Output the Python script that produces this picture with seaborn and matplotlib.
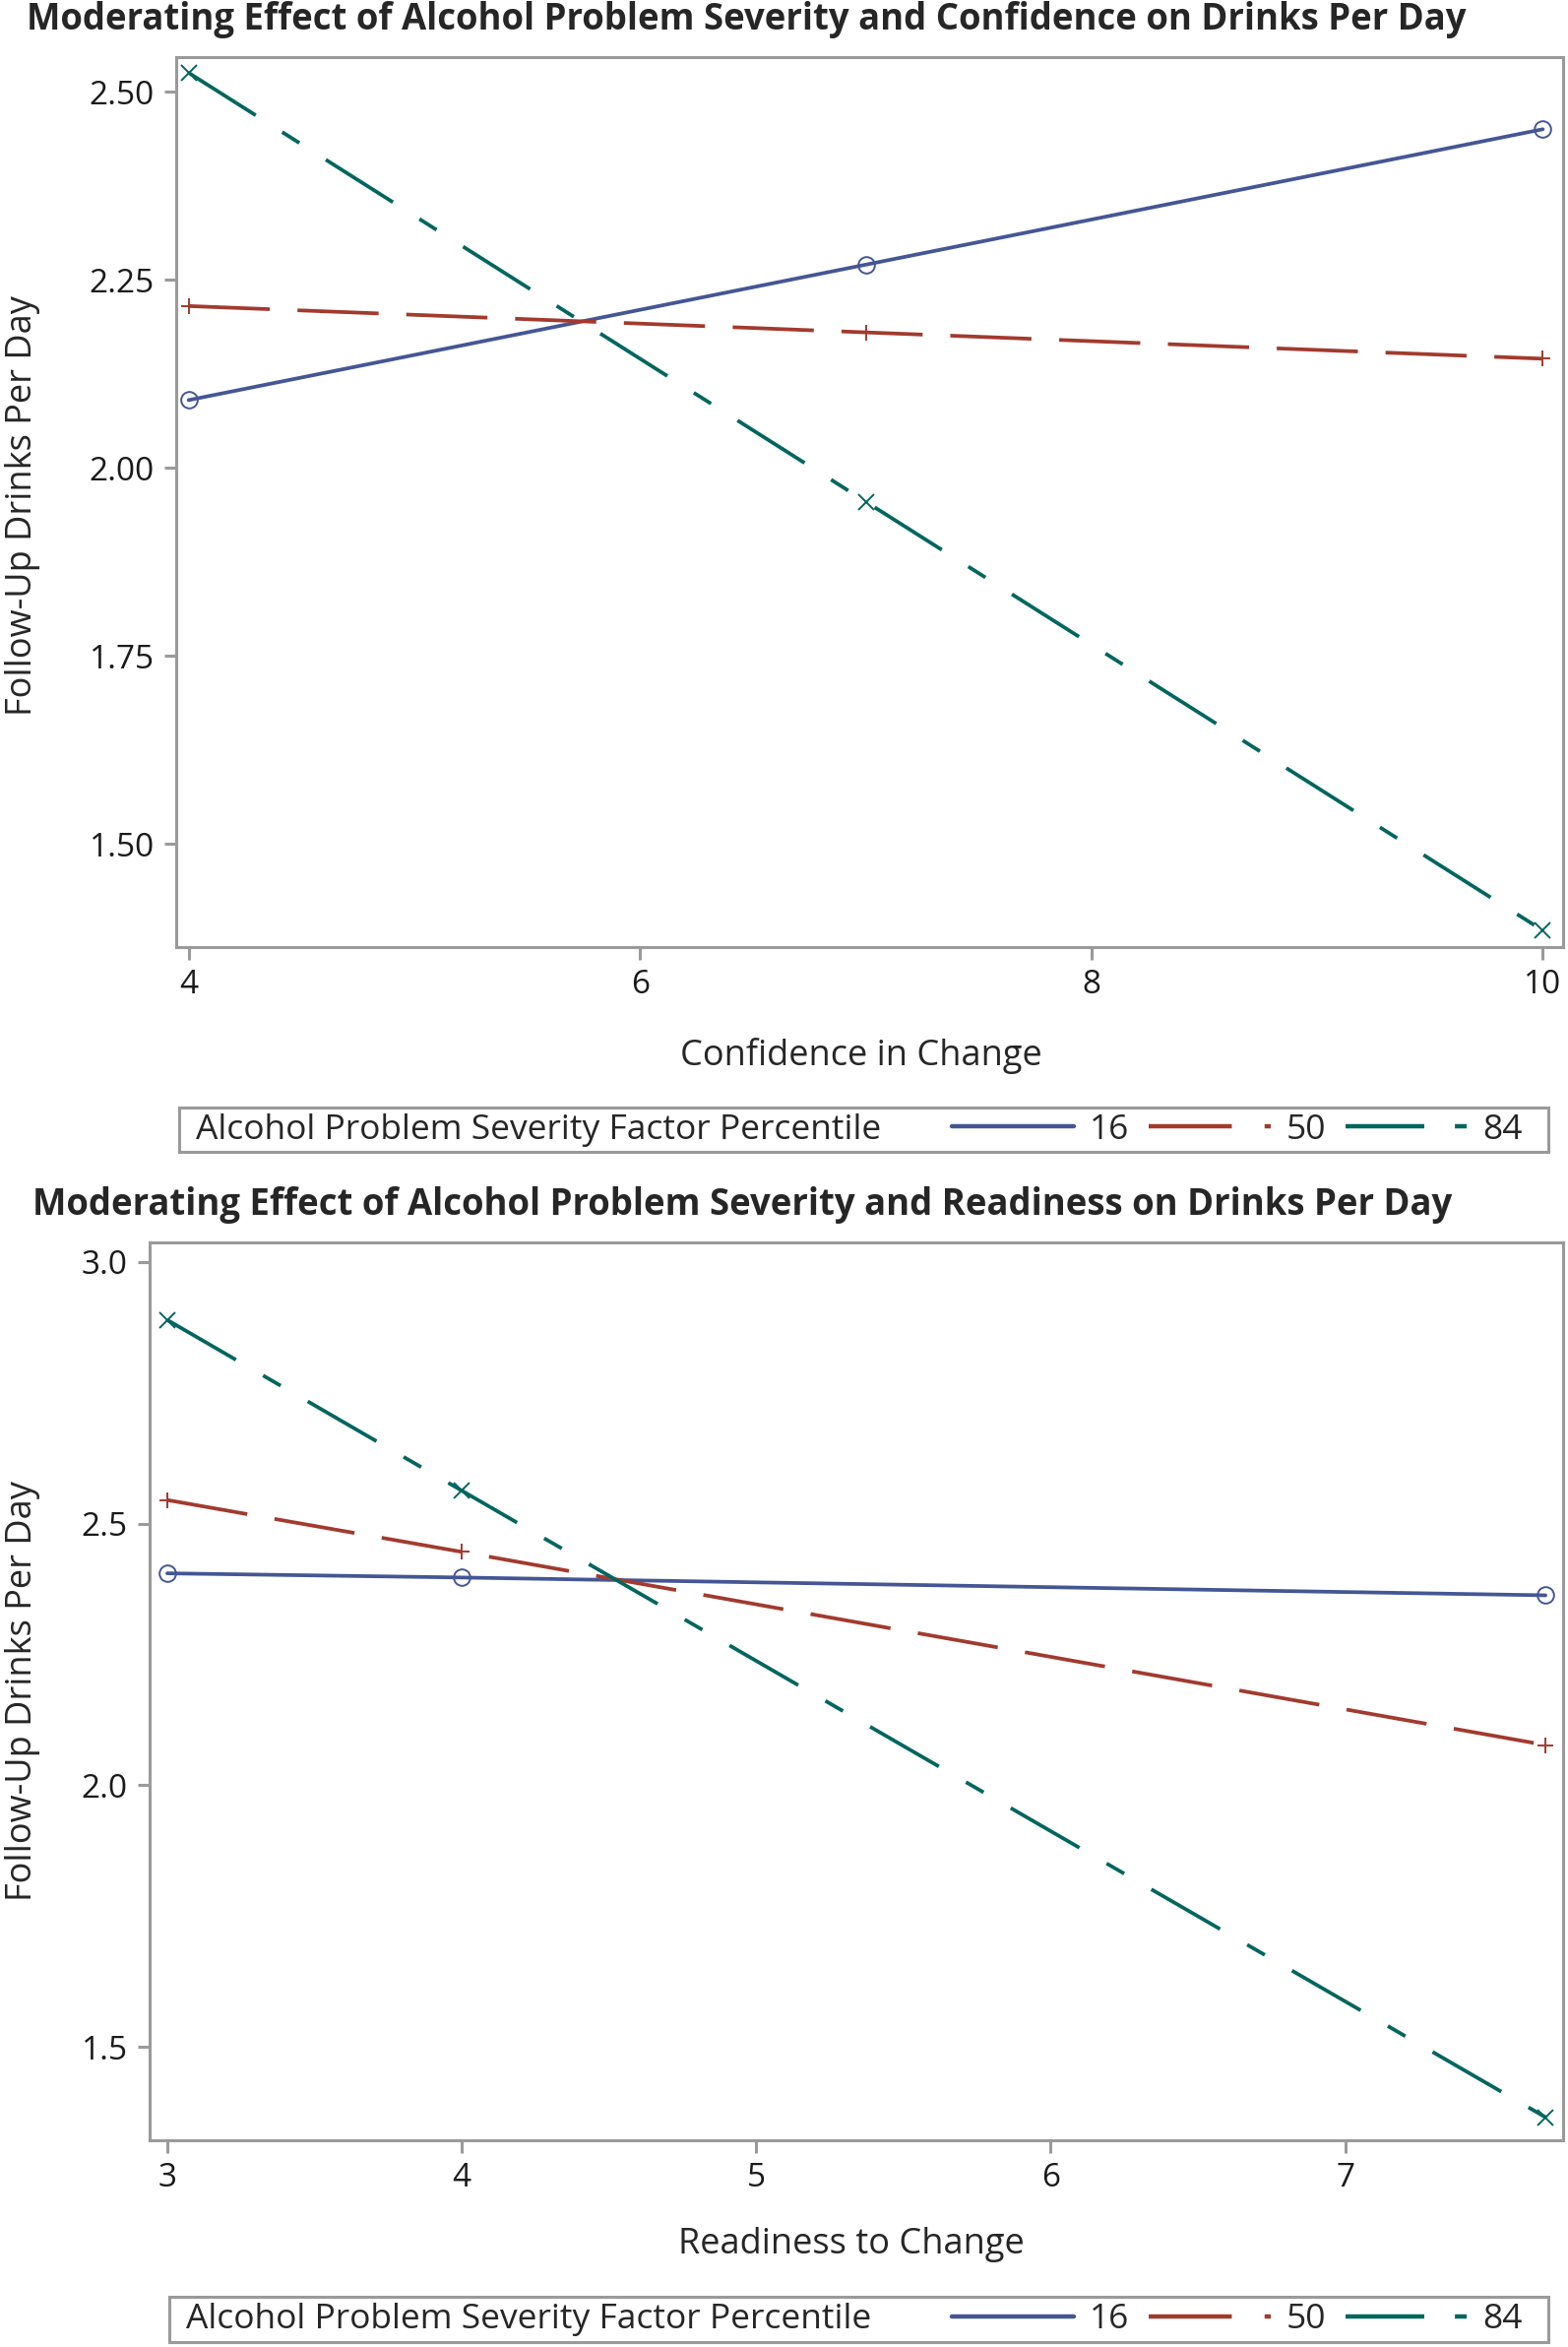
import numpy as np
import pandas as pd
import matplotlib
matplotlib.use("Agg")
import matplotlib.pyplot as plt
from matplotlib.lines import Line2D
from matplotlib.patches import Rectangle
import seaborn as sns

# ---- data ----
percentiles = ["16", "50", "84"]
conf_x = [4, 7, 10]
conf_16 = [2.09, 2.27, 2.45]
conf_50 = [2.215, 2.18, 2.145]
conf_84 = [2.525, 1.955, 1.385]
conf_yticks = [1.50, 1.75, 2.00, 2.25, 2.50]
conf_xticks = [4, 6, 8, 10]

read_x = [3, 4, 7.68]
read_16 = [2.405, 2.397, 2.363]
read_50 = [2.545, 2.446, 2.077]
read_84 = [2.889, 2.563, 1.366]
read_yticks = [1.5, 2.0, 2.5, 3.0]
read_xticks = [3, 4, 5, 6, 7]

title_top = "Moderating Effect of Alcohol Problem Severity and Confidence on Drinks Per Day"
title_bot = "Moderating Effect of Alcohol Problem Severity and Readiness on Drinks Per Day"
ylabel = "Follow-Up Drinks Per Day"
xlabel_top = "Confidence in Change"
xlabel_bot = "Readiness to Change"
legend_title = "Alcohol Problem Severity Factor Percentile"

# ---- styles ----
colors = {"16": "#445694", "50": "#A23A2E", "84": "#01665E"}
markers = {"16": "o", "50": "+", "84": "x"}
dashes = {"16": (), "50": (22, 7.5), "84": (21.5, 8.5, 5.5, 8.5)}
legend_dashes = {"16": (), "50": (19, 7.5, 2, 7.5), "84": (18, 7, 2.7, 7)}
LW = 2.7

sns.set_theme(style="white")
FONT = ["Open Sans", "DejaVu Sans"]
plt.rcParams["font.family"] = FONT

fig = plt.figure(figsize=(15.93, 23.84), dpi=100)
ax1 = fig.add_axes([0.1124, 0.5965, 0.8845, 0.3792])
ax2 = fig.add_axes([0.0954, 0.0881, 0.9015, 0.3825])

def draw(ax, x, series, xlim, ylim, xticks, yticks, fmt):
    for p, ys in zip(percentiles, series):
        df = pd.DataFrame({"x": x, "y": ys})
        sns.lineplot(data=df, x="x", y="y", ax=ax, color=colors[p],
                     marker=markers[p], markersize=12, mfc="none",
                     mec=colors[p], mew=1.4, lw=LW, legend=False)
        ln = ax.lines[-1]
        if dashes[p]:
            ln.set_dashes(dashes[p])
    ax.set_xlim(*xlim)
    ax.set_ylim(*ylim)
    ax.set_xticks(xticks)
    ax.set_yticks(yticks)
    ax.set_yticklabels([fmt.format(v) for v in yticks])
    ax.set_xticklabels([str(v) for v in xticks])
    ax.set_xlabel("")
    ax.set_ylabel("")
    for s in ax.spines.values():
        s.set_color("#9a9a9a")
        s.set_linewidth(2.2)
        s.set_visible(True)
    ax.tick_params(axis="both", which="major", direction="out", length=9,
                   width=2.2, color="#9a9a9a", labelsize=24, labelcolor="#1a1a1a",
                   left=True, bottom=True, right=False, top=False, pad=7)
    ax.grid(False)

draw(ax1, conf_x, [conf_16, conf_50, conf_84], (3.945, 10.09), (1.363, 2.546),
     conf_xticks, conf_yticks, "{:.2f}")
draw(ax2, read_x, [read_16, read_50, read_84], (2.94, 7.74), (1.322, 3.037),
     read_xticks, read_yticks, "{:.1f}")

# titles
fig.text(0.017, 0.9916, title_top, fontsize=26.3, fontweight="bold", ha="left", va="center")
fig.text(0.021, 0.4866, title_bot, fontsize=26.3, fontweight="bold", ha="left", va="center")
# axis labels
fig.text(0.549, 0.55, xlabel_top, fontsize=26, ha="center", va="center")
fig.text(0.543, 0.0436, xlabel_bot, fontsize=26, ha="center", va="center")
fig.text(0.0144, 0.7844, ylabel, fontsize=26, rotation=90, ha="center", va="center")
fig.text(0.0144, 0.2794, ylabel, fontsize=26, rotation=90, ha="center", va="center")

# legends
handles = []
for p in percentiles:
    h = Line2D([0], [0], color=colors[p], lw=3.2)
    if legend_dashes[p]:
        h.set_dashes(legend_dashes[p])
    handles.append(h)

def legend_box(x0, y0, w, h):
    fig.patches.append(Rectangle((x0, y0), w, h, transform=fig.transFigure,
                                 fill=False, ec="#9a9a9a", lw=2.2))
    fig.text(x0 + 0.0105, y0 + h / 2, legend_title, fontsize=25.5, ha="left", va="center")
    fig.legend(handles, percentiles, ncol=3, loc="center right",
               bbox_to_anchor=(x0 + w - 0.003, y0 + h / 2), frameon=False,
               fontsize=25.5, handlelength=3.5, handletextpad=0.45,
               columnspacing=0.55, borderpad=0.1)

legend_box(0.1142, 0.5092, 0.8732, 0.0189)
legend_box(0.1080, 0.0021, 0.8795, 0.0193)

fig.savefig("out.png", dpi=100)
